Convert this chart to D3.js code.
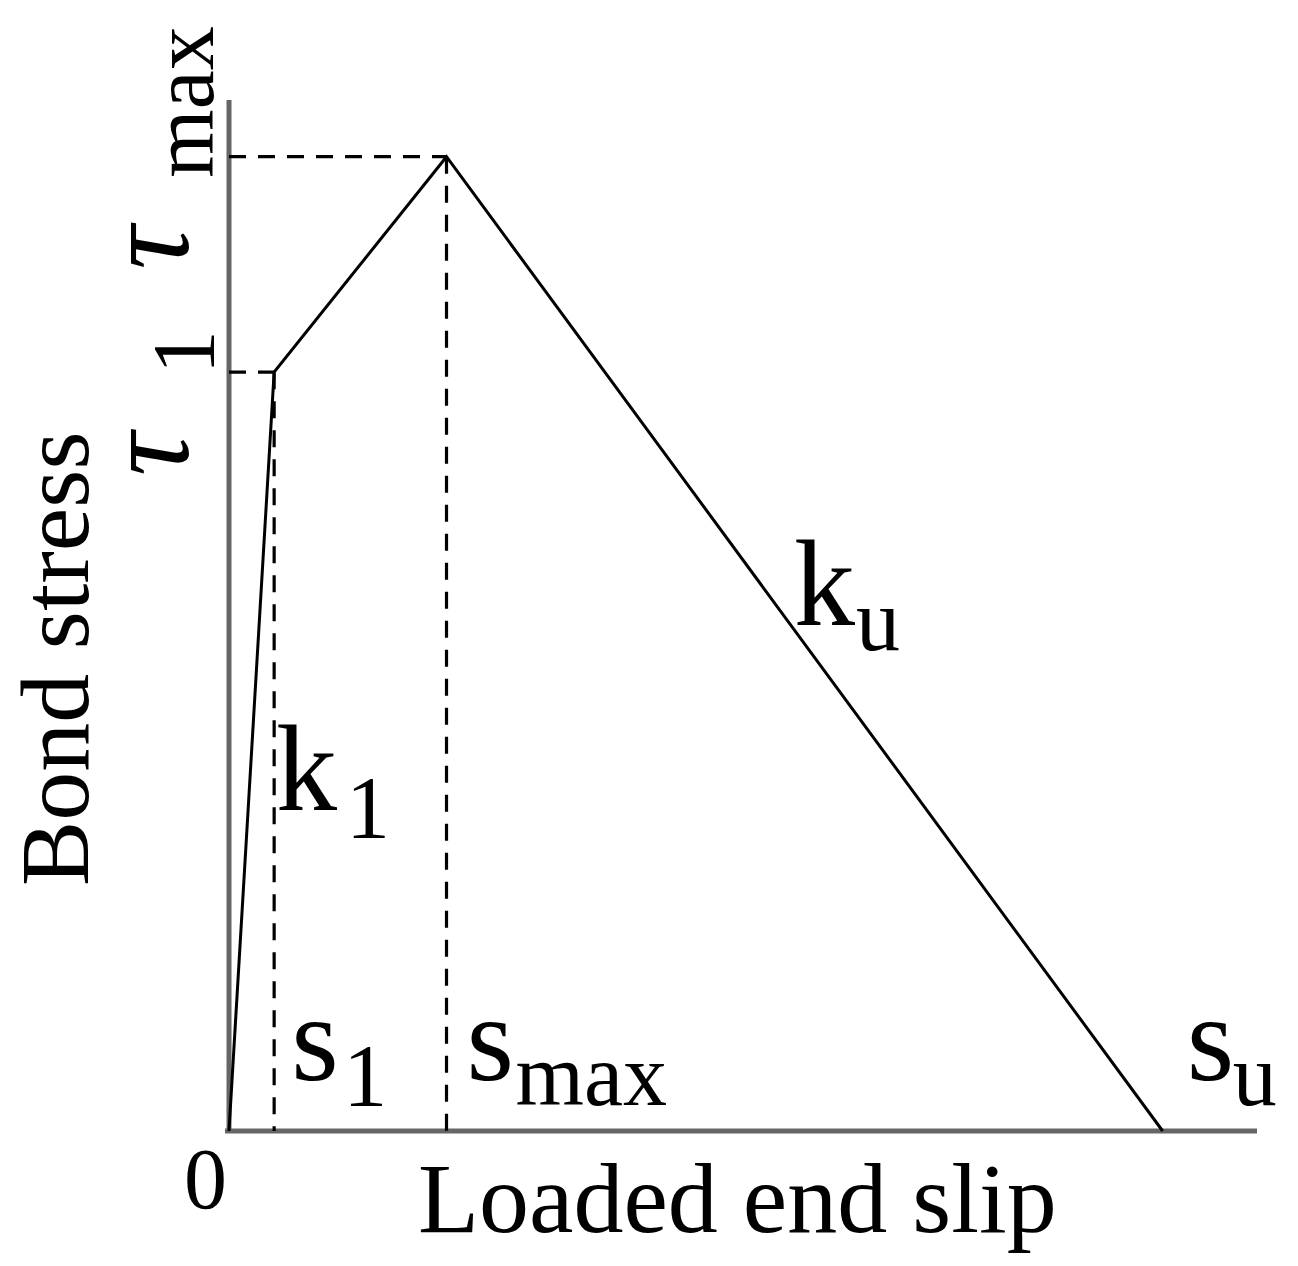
<!DOCTYPE html>
<html><head><meta charset="utf-8">
<script src="https://cdn.jsdelivr.net/npm/d3@7"></script>
<style>body{margin:0;background:#fff}svg{display:block}text{font-family:"Liberation Serif","Times New Roman",serif;fill:#000}</style>
</head><body>
<svg id="c" width="1298" height="1266"></svg>
<script>
// Bond–slip model (schematic, arbitrary units)
const pointNames = ["origin", "s1", "smax", "su"];
const slipValues = [0, 0.44, 2.12, 9.1];
const stressValues = [0, 7.36, 9.45, 0];
const xDomain = [0, 10];
const yDomain = [0, 10];

const svg = d3.select("#c");
const x = d3.scaleLinear().domain(xDomain).range([229, 1255]);
const y = d3.scaleLinear().domain(yDomain).range([1131, 100]);
const pts = slipValues.map((s, i) => ({name: pointNames[i], s, t: stressValues[i]}));

// axes
svg.append("line").attr("x1", x(0) - 4).attr("x2", x(xDomain[1]) + 2).attr("y1", y(0)).attr("y2", y(0))
  .attr("stroke", "#666").attr("stroke-width", 5);
svg.append("line").attr("x1", x(0)).attr("x2", x(0)).attr("y1", y(0) + 2).attr("y2", y(yDomain[1]))
  .attr("stroke", "#666").attr("stroke-width", 5);

// dashed guides
const guides = svg.append("g").attr("stroke", "#000").attr("stroke-width", 3.2).attr("stroke-dasharray", "17,12");
[pts[1], pts[2]].forEach(p => {
  guides.append("line").attr("x1", x(0)).attr("x2", x(p.s)).attr("y1", y(p.t)).attr("y2", y(p.t));
  guides.append("line").attr("x1", x(p.s)).attr("x2", x(p.s)).attr("y1", y(p.t)).attr("y2", y(0));
});

// curve
svg.append("path").datum(pts)
  .attr("d", d3.line().x(d => x(d.s)).y(d => y(d.t)))
  .attr("fill", "none").attr("stroke", "#000").attr("stroke-width", 3).attr("stroke-linejoin", "miter");

const big = 122, sub = 88;
function symbol(g, main, subText, subDx, subDy) {
  g.append("text").attr("font-size", big).text(main);
  g.append("text").attr("font-size", sub).attr("x", subDx).attr("y", subDy).text(subText);
}

// x-axis symbols
symbol(svg.append("g").attr("transform", `translate(${x(slipValues[1]) + 17},1080)`), "s", "1", 52, 25);
symbol(svg.append("g").attr("transform", `translate(${x(slipValues[2]) + 20},1080)`), "s", "max", 49, 25);
symbol(svg.append("g").attr("transform", `translate(${x(slipValues[3]) + 24},1080)`), "s", "u", 46, 25);

// slopes
symbol(svg.append("g").attr("transform", `translate(276,810)`), "k", "1", 70, 27);
symbol(svg.append("g").attr("transform", `translate(794,625)`), "k", "u", 62, 25);

// y-axis symbols (rotated)
function tau(yStart, subText, subGap) {
  const g = svg.append("g").attr("transform", `translate(188,${yStart}) rotate(-90)`);
  g.append("text").attr("font-size", big).attr("font-style", "italic").text("τ");
  g.append("text").attr("font-size", sub).attr("x", subGap).attr("y", 25).text(subText);
}
tau(y(stressValues[2]) + 113, "max", 92);
tau(y(stressValues[1]) + 104, "1", 102);

// zero and axis titles
svg.append("text").attr("x", 184).attr("y", 1208).attr("font-size", 86).text("0");
svg.append("text").attr("x", 418).attr("y", 1232).attr("font-size", 100).text("Loaded end slip");
svg.append("text").attr("transform", "translate(88,886) rotate(-90)").attr("font-size", 98).text("Bond stress");
</script>
</body></html>
